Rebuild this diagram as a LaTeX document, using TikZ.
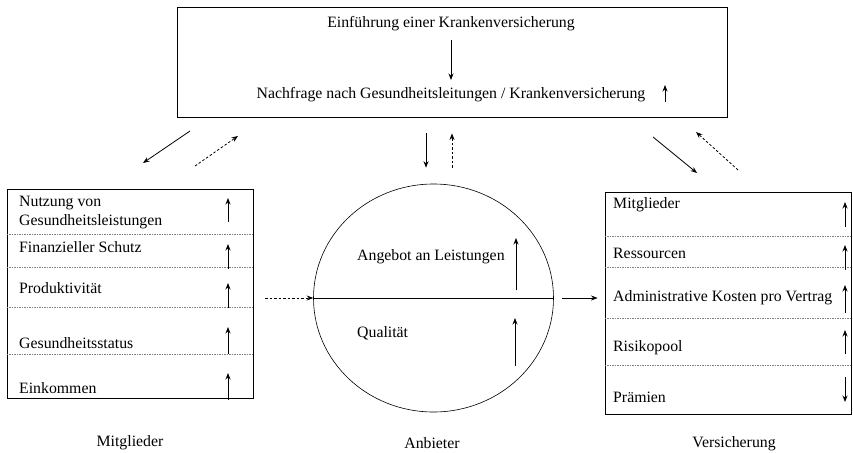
\documentclass[tikz,border=0pt]{standalone}
\usepackage{fontspec}
\setmainfont{Liberation Serif}
\usetikzlibrary{arrows.meta,shapes.geometric}
\begin{document}
\begin{tikzpicture}[x=1pt,y=-1pt,
  lab/.style={font=\fontsize{15.8}{18}\selectfont, inner sep=0pt},
  row/.style={lab, anchor=west},
  arr/.style={-{Stealth[length=6.5pt,width=5pt]}, line width=0.8pt},
  darr/.style={arr, dash pattern=on 2.5pt off 2pt},
  box/.style={draw, line width=0.9pt, inner sep=0pt},
  div/.style={draw=gray, line width=0.5pt, dash pattern=on 1.5pt off 1pt}]
\useasboundingbox (0,0) rectangle (853,452);

% top box
\node[box, minimum width=550pt, minimum height=110pt] (top) at (452,62) {};
\node[lab] (e1) at (451,24) {Einführung einer Krankenversicherung};
\node[lab] (n1) at (451,95) {Nachfrage nach Gesundheitsleitungen / Krankenversicherung};
\draw[arr] ([yshift=-16pt]e1.center) -- ([yshift=15pt]n1.center);
\draw[arr] (665,102) -- (665,85);

% left box
\node[box, minimum width=246pt, minimum height=209pt] (mbox) at (130,293.5) {};
\draw[div] (mbox.west |- 0,234) -- (mbox.east |- 0,234);
\draw[div] (mbox.west |- 0,267) -- (mbox.east |- 0,267);
\draw[div] (mbox.west |- 0,307) -- (mbox.east |- 0,307);
\draw[div] (mbox.west |- 0,354) -- (mbox.east |- 0,354);
\node[row] (m1a) at (19,203) {Nutzung von};
\node[row] (m1b) at (19,222) {Gesundheitsleistungen};
\node[row] (m2) at (19,247) {Finanzieller Schutz};
\node[row] (m3) at (19,288) {Produktivität};
\node[row] (m4) at (19,343) {Gesundheitsstatus};
\node[row] (m5) at (19,388) {Einkommen};
\draw[arr] (228,222) -- (228,198);
\draw[arr] (228,269) -- (228,244);
\draw[arr] (228,308) -- (228,283);
\draw[arr] (228,354) -- (228,327);
\draw[arr] (228,400) -- (228,373);
\node[lab] (mlab) at (130,443) {Mitglieder};

% circle
\node[draw, ellipse, line width=0.6pt, minimum width=240pt, minimum height=228pt, inner sep=0pt] (anb) at (433.5,298) {};
\draw[line width=0.6pt] (anb.west) -- (anb.east);
\node[lab, anchor=west] (a1) at (357,257) {Angebot an Leistungen};
\node[lab, anchor=west] (a2) at (357,333) {Qualität};
\draw[arr] (516,290) -- (516,238);
\draw[arr] (515,366) -- (515,318);
\node[lab] (alab) at (432,443) {Anbieter};

% right box
\node[box, minimum width=246pt, minimum height=222pt] (vbox) at (728,303) {};
\draw[div] (vbox.west |- 0,236) -- (vbox.east |- 0,236);
\draw[div] (vbox.west |- 0,267) -- (vbox.east |- 0,267);
\draw[div] (vbox.west |- 0,318) -- (vbox.east |- 0,318);
\draw[div] (vbox.west |- 0,365) -- (vbox.east |- 0,365);
\node[row] (v1) at (613,205) {Mitglieder};
\node[row] (v2) at (613,253) {Ressourcen};
\node[row] (v3) at (613,298) {Administrative Kosten pro Vertrag};
\node[row] (v4) at (613,348) {Risikopool};
\node[row] (v5) at (613,397) {Prämien};
\draw[arr] (845,227) -- (845,202);
\draw[arr] (845,270) -- (845,245);
\draw[arr] (845,313) -- (845,285);
\draw[arr] (845,354) -- (845,330);
\draw[arr] (845,377) -- (845,402);
\node[lab] (vlab) at (734,444) {Versicherung};

% connectors
\coordinate (l1s) at (190,131);
\coordinate (l1e) at (143,163);
\coordinate (l2s) at (195,166);
\coordinate (l2e) at (238,136);
\draw[arr] (l1s) -- (l1e);
\draw[darr] (l2s) -- (l2e);
\coordinate (r1s) at (653,137);
\coordinate (r1e) at (697,173);
\coordinate (r2s) at (738,170);
\coordinate (r2e) at (696,132);
\draw[arr] (r1s) -- (r1e);
\draw[darr] (r2s) -- (r2e);
\draw[arr] ([yshift=-16pt]top.south -| 426,0) -- ([yshift=16pt]anb.north -| 426,0);
\draw[darr] ([yshift=16pt]anb.north -| 452,0) -- ([yshift=-16pt]top.south -| 452,0);
\draw[darr] ([xshift=-48pt]anb.west) -- (anb.west);
\draw[arr] ([xshift=8pt]anb.east) -- ([xshift=-7pt]anb.east -| vbox.west);
\end{tikzpicture}
\end{document}
